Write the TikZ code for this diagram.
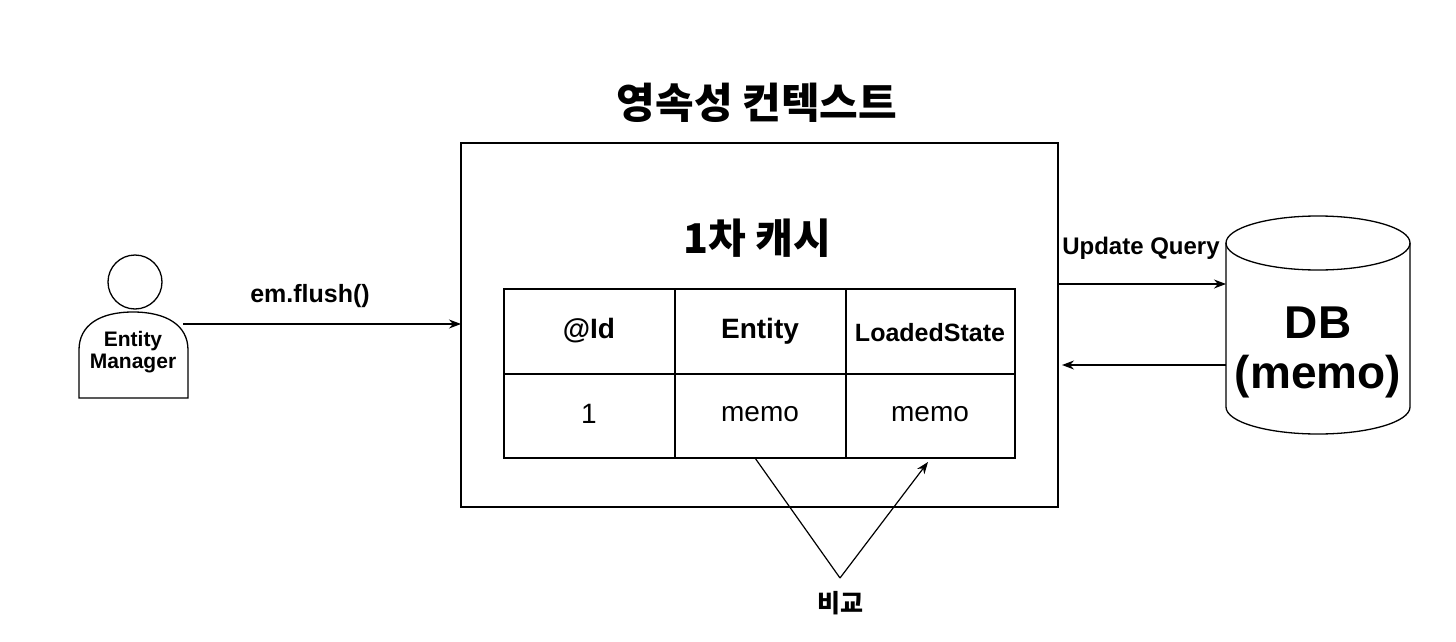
\documentclass[tikz,border=0pt]{standalone}
\usepackage{fontspec}
\setmainfont{Liberation Sans}
\newfontfamily\kofont{Noto Sans CJK KR}
\usetikzlibrary{arrows.meta}
\tikzset{
    lbl/.style={font=\bfseries\fontsize{#1}{#1}\selectfont, inner sep=0pt},
    txt/.style={font=\fontsize{#1}{#1}\selectfont, inner sep=0pt},
    arr/.style={-{Stealth[length=12pt,width=9pt]}, line width=1.2pt}
}
\begin{document}
\begin{tikzpicture}[x=1pt,y=-1pt, line width=1.3pt]
    \useasboundingbox (0,0) rectangle (1456,642);
    %TITLE
    \node[lbl=42] (title) at (757,103) {\kofont\bfseries 영속성 컨텍스트};
    %CONTEXT
    \draw (461,143) rectangle (1058,507);
    \node[lbl=41] (cache) at (757,238) {\kofont\bfseries 1차 캐시};
    %TABLE
    \draw (504,289) rectangle (1015,458);
    \draw (504,374) -- (1015,374);
    \draw (675,289) -- (675,458);
    \draw (846,289) -- (846,458);
    \node[lbl=28] (hid) at (589,331) {@Id};
    \node[lbl=28] (hent) at (760,331) {Entity};
    \node[lbl=25] (hstate) at (930,333) {LoadedState};
    \node[txt=28] (vid) at (589,414) {1};
    \node[txt=28] (vent) at (760,414) {memo};
    \node[txt=28] (vstate) at (930,414) {memo};
    %PERSON
    \draw (135,282) circle (27);
    \draw (79,398) -- (79,350) .. controls (79,325) and (100,312) .. (133,312)
        .. controls (166,312) and (188,325) .. (188,350) -- (188,398) -- cycle;
    \node[lbl=21, align=center] (em) at (133,352) {Entity\\[1pt]Manager};
    %ARROWS
    \coordinate (emR) at (183,324);
    \coordinate (ctxL) at (461,324);
    \draw[arr] (emR) -- (ctxL);
    \node[lbl=25] (flush) at (310,296) {em.flush()};
    \coordinate (ctxR1) at (1058,284);
    \coordinate (dbL1) at (1226,284);
    \coordinate (dbL2) at (1226,365);
    \coordinate (ctxR2) at (1062,365);
    \draw[arr] (ctxR1) -- (dbL1);
    \node[lbl=24] (uq) at (1141,248) {Update Query};
    \draw[arr] (dbL2) -- (ctxR2);
    %DB
    \draw (1226,243) -- (1226,407) arc[start angle=180, end angle=360, x radius=92, y radius=-27]
        -- (1410,243);
    \draw (1318,243) ellipse [x radius=92, y radius=27];
    \node[lbl=46, align=center] (db) at (1318,352) {DB\\[4pt](memo)};
    %COMPARE
    \coordinate (cmp) at (840,578);
    \coordinate (entB) at (755,458);
    \coordinate (stateB) at (928,462);
    \draw[line width=1.2pt] (entB) -- (cmp);
    \draw[arr] (cmp) -- (stateB);
    \node[lbl=25] (cmplbl) at (840,603) {\kofont\bfseries 비교};
\end{tikzpicture}
\end{document}
